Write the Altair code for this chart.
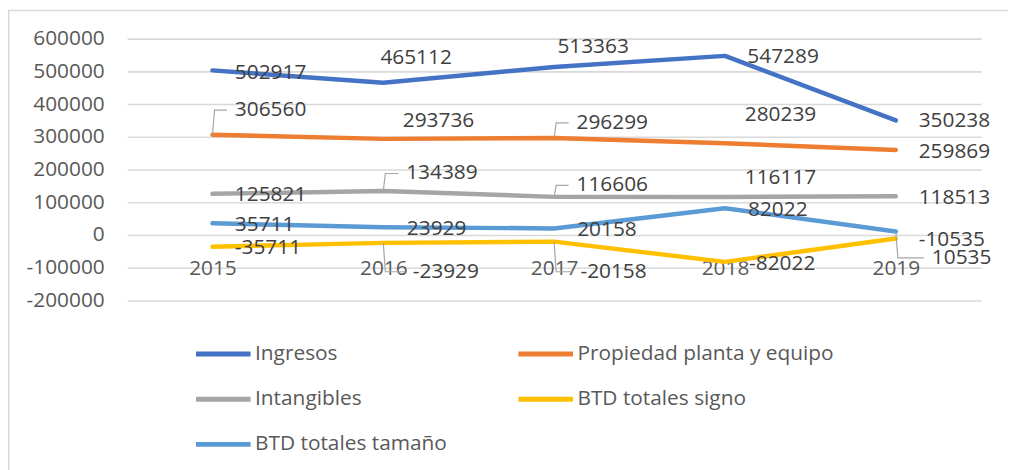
import altair as alt
import pandas as pd

years = [2015, 2016, 2017, 2018, 2019]
series_names = ["Ingresos", "Propiedad planta y equipo", "Intangibles",
                "BTD totales signo", "BTD totales tamaño"]
ingresos = [502917, 465112, 513363, 547289, 350238]
propiedad = [306560, 293736, 296299, 280239, 259869]
intangibles = [125821, 134389, 116606, 116117, 118513]
btd_signo = [-35711, -23929, -20158, -82022, -10535]
btd_tamano = [35711, 23929, 20158, 82022, 10535]
colors = ["#4472C4", "#ED7D31", "#A5A5A5", "#FFC000", "#5B9BD5"]
y_ticks = [-200000, -100000, 0, 100000, 200000, 300000, 400000, 500000, 600000]

# data-label anchors (in data units)
label_x = {
    "Ingresos": [2015.131, 2015.983, 2017.019, 2018.131, 2019.134],
    "Propiedad planta y equipo": [2015.131, 2016.114, 2017.131, 2018.116, 2019.134],
    "Intangibles": [2015.131, 2016.134, 2017.131, 2018.116, 2019.134],
    "BTD totales signo": [2015.131, 2016.172, 2017.154, 2018.141, 2019.134],
    "BTD totales tamaño": [2015.131, 2016.138, 2017.135, 2018.135, 2019.211],
}
label_y = {
    "Ingresos": [494000, 539400, 572700, 542400, 348500],
    "Propiedad planta y equipo": [381800, 348500, 342400, 366700, 254500],
    "Intangibles": [121200, 187900, 151500, 172700, 112100],
    "BTD totales signo": [-39400, -112100, -112100, -87900, -15200],
    "BTD totales tamaño": [30300, 18200, 15200, 75800, -69700],
}
has_leader = {
    "Ingresos": [0, 0, 0, 0, 0],
    "Propiedad planta y equipo": [1, 0, 1, 0, 0],
    "Intangibles": [0, 1, 1, 0, 0],
    "BTD totales signo": [0, 1, 1, 0, 0],
    "BTD totales tamaño": [0, 0, 0, 0, 1],
}

values = {
    "Ingresos": ingresos,
    "Propiedad planta y equipo": propiedad,
    "Intangibles": intangibles,
    "BTD totales signo": btd_signo,
    "BTD totales tamaño": btd_tamano,
}

rows, lab_rows, lead_rows = [], [], []
for s in series_names:
    for i, yr in enumerate(years):
        v = values[s][i]
        rows.append({"series": s, "year": yr, "value": v})
        lab_rows.append({"series": s, "lx": label_x[s][i], "ly": label_y[s][i],
                         "text": str(v)})
        if has_leader[s][i]:
            lid = f"{s}-{yr}"
            lead_rows += [
                {"id": lid, "k": 0, "x": yr, "y": v},
                {"id": lid, "k": 1, "x": yr + 0.012, "y": label_y[s][i]},
                {"id": lid, "k": 2, "x": label_x[s][i] - 0.046, "y": label_y[s][i]},
            ]

df = pd.DataFrame(rows)
df_lab = pd.DataFrame(lab_rows)
df_lead = pd.DataFrame(lead_rows)

# legend fills column by column: order entries so rows read like the original
legend_order = [0, 2, 4, 1, 3]
color_domain = [series_names[i] for i in legend_order]
color_range = [colors[i] for i in legend_order]

FONT = "Open Sans"
xscale = alt.Scale(domain=[2014.5, 2019.5], nice=False, zero=False)
yscale = alt.Scale(domain=[-200000, 600000], nice=False)
xaxis = alt.Axis(values=years, format="d", grid=False, domain=False,
                 ticks=False, offset=-43, labelPadding=0,
                 labelFlush=False, labelFont=FONT, labelFontSize=21,
                 labelColor="#595959")
yaxis = alt.Axis(values=y_ticks, tickCount=9,
                 labelExpr="datum.value + ''", labelOverlap=False,
                 domain=False, ticks=False,
                 labelPadding=23, labelFont=FONT, labelFontSize=21,
                 labelColor="#595959", gridColor="#d9d9d9", gridWidth=1.6)

frame = alt.Chart(pd.DataFrame({"f": [0]})).mark_rect(
    fillOpacity=0, stroke="#d9d9d9", strokeWidth=1.5
).encode(
    x=alt.value(-119.25), x2=alt.value(1000),
    y=alt.value(-28.25), y2=alt.value(600)
)

lines = alt.Chart(df).mark_line(
    strokeWidth=4.5, strokeCap="round", strokeJoin="round"
).encode(
    x=alt.X("year:Q", scale=xscale, title=None, axis=xaxis),
    y=alt.Y("value:Q", scale=yscale, title=None, axis=yaxis),
    color=alt.Color("series:N",
                    scale=alt.Scale(domain=color_domain, range=color_range),
                    legend=alt.Legend(title=None, orient="none",
                                      legendX=67, legendY=288, columns=2,
                                      symbolType="stroke", symbolSize=3025,
                                      symbolStrokeWidth=5, labelFont=FONT,
                                      labelFontSize=21, labelColor="#595959",
                                      labelLimit=400, labelOffset=2,
                                      columnPadding=61, rowPadding=5.5,
                                      padding=0)),
)

leaders = alt.Chart(df_lead).mark_line(
    color="#a6a6a6", strokeWidth=1.2
).encode(
    x=alt.X("x:Q", scale=xscale, title=None, axis=xaxis),
    y=alt.Y("y:Q", scale=yscale, title=None, axis=yaxis),
    detail="id:N",
    order="k:Q",
)

labels = alt.Chart(df_lab).mark_text(
    align="left", baseline="middle", font=FONT, fontSize=21, color="#404040"
).encode(
    x=alt.X("lx:Q", scale=xscale, title=None, axis=xaxis),
    y=alt.Y("ly:Q", scale=yscale, title=None, axis=yaxis),
    text="text:N",
)

chart = alt.layer(frame, lines, leaders, labels).properties(
    width=861, height=264,
    autosize=alt.AutoSizeParams(type="none"),
    padding={"left": 120, "top": 29, "right": 27, "bottom": 170},
).configure_view(strokeWidth=0)

chart.save("out.html", embed_options={"renderer": "svg", "actions": False})
